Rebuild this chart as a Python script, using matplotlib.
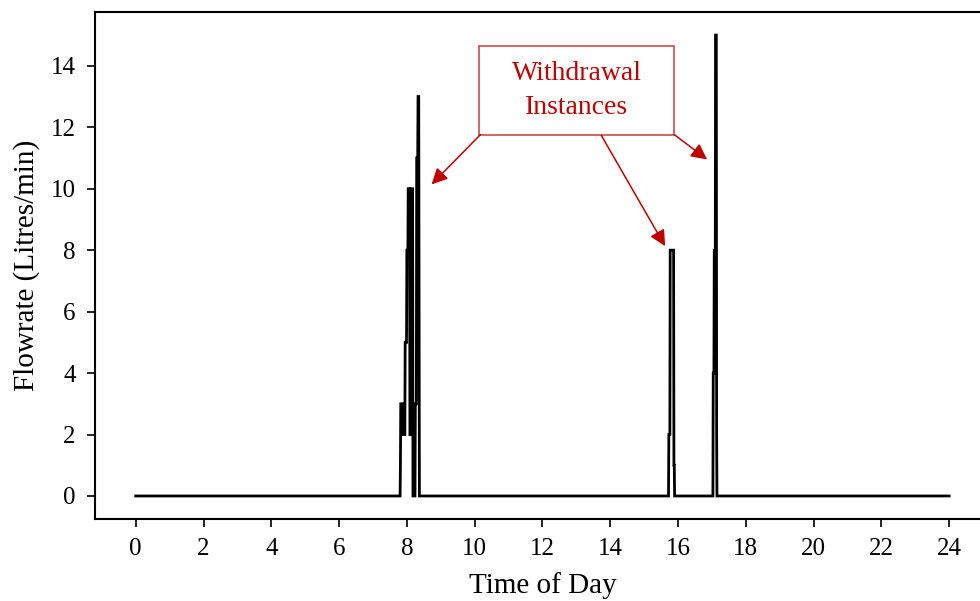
import numpy as np
import matplotlib.pyplot as plt
from matplotlib.patches import Rectangle

plt.rcParams['font.family'] = ['Liberation Serif', 'DejaVu Serif']

# flow events: (hour of day, litres/min)
morning_t = [7.80, 7.81, 7.82, 7.88, 7.89, 7.94, 7.95, 7.99, 8.00, 8.03, 8.04, 8.08,
             8.09, 8.11, 8.12, 8.17, 8.18, 8.24, 8.25, 8.28, 8.29, 8.32, 8.33, 8.35, 8.37]
morning_q = [0, 1, 3, 3, 2, 2, 5, 5, 8, 8, 10, 10,
             2, 2, 10, 10, 0, 0, 3, 3, 11, 11, 13, 13, 0]
afternoon_t = [15.72, 15.73, 15.76, 15.77, 15.87, 15.88, 15.89, 15.90]
afternoon_q = [0, 2, 2, 8, 8, 1, 1, 0]
evening_t = [17.03, 17.04, 17.06, 17.07, 17.10, 17.11, 17.13, 17.14, 17.15]
evening_q = [0, 4, 4, 8, 8, 15, 15, 2, 0]

hours = [0] + morning_t + afternoon_t + evening_t + [24]
flow = [0] + morning_q + afternoon_q + evening_q + [0]

fig = plt.figure(figsize=(9.8, 6.01), dpi=100)
ax = fig.add_axes([0.097, 0.1364, 0.913, 0.8436])

ax.plot(hours, flow, color='black', lw=2.0, solid_joinstyle='miter')

ax.set_xticks(np.arange(0, 25, 2))
ax.set_yticks(np.arange(0, 15, 2))
ax.tick_params(labelsize=18, length=6, width=1.2, direction='out', pad=8)
ax.set_xlabel('Time of Day', fontsize=21, labelpad=8)
ax.set_ylabel('Flowrate (Litres/min)', fontsize=21, labelpad=8)
for s in ax.spines.values():
    s.set_linewidth(1.5)

# annotation box with arrows pointing at the withdrawals
red = '#c00000'
box = Rectangle((10.14, 11.76), 5.75, 2.89, fill=False, edgecolor='#d04848', lw=1.2)
ax.add_patch(box)
ax.text(13.02, 13.2, 'Withdrawal\nInstances', color=red, fontsize=20,
        ha='center', va='center', linespacing=1.45)

arrows = [((10.17, 11.76), (8.73, 10.14)),
          ((13.74, 11.73), (15.62, 8.13)),
          ((15.89, 11.76), (16.86, 10.95))]
for start, tip in arrows:
    ax.annotate('', xy=tip, xytext=start,
                arrowprops=dict(arrowstyle='-|>', mutation_scale=24, color=red,
                                lw=1.1, shrinkA=0, shrinkB=0))

fig.savefig('out.png', dpi=100)
